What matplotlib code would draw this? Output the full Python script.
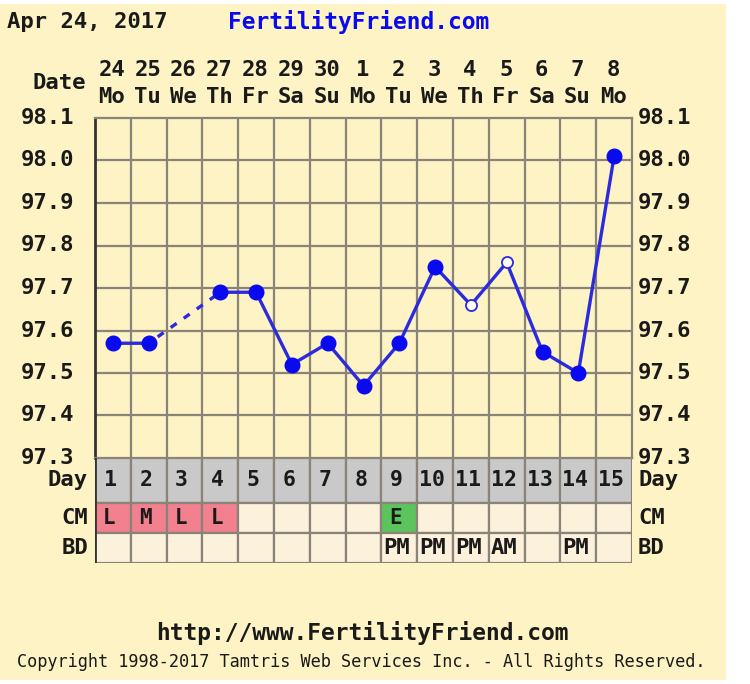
"""Fertility chart: basal body temperature, cycle days 1-15."""

import numpy as np
import matplotlib
matplotlib.use("Agg")
import matplotlib.pyplot as plt
from matplotlib.patches import Rectangle

PAGE = "#fdf3c4"
CELL = "#fcf2dc"
DAYROW = "#c9c9c9"
PINK = "#f2808e"
GREEN = "#5cc45c"
GRID = "#8a8478"
INK = "#1a1a1a"
BLUE = "#0a0aee"
LINE = "#2b2bdd"
MONO = "DejaVu Sans Mono"

# ---- data -----------------------------------------------------------------
cycle_days = list(range(1, 16))
date_nums = ["24", "25", "26", "27", "28", "29", "30", "1",
             "2", "3", "4", "5", "6", "7", "8"]
weekdays = ["Mo", "Tu", "We", "Th", "Fr", "Sa", "Su", "Mo",
            "Tu", "We", "Th", "Fr", "Sa", "Su", "Mo"]
temps = [97.57, 97.57, np.nan, 97.69, 97.69, 97.52, 97.57, 97.47,
         97.57, 97.75, 97.66, 97.76, 97.55, 97.50, 98.01]
open_marker_days = [11, 12]
cm_codes = ["L", "M", "L", "L", "", "", "", "", "E", "", "", "", "", "", ""]
bd_codes = ["", "", "", "", "", "", "", "", "PM", "PM", "PM", "AM", "", "PM", ""]
temp_ticks = [97.3, 97.4, 97.5, 97.6, 97.7, 97.8, 97.9, 98.0, 98.1]
cm_colors = {"L": PINK, "M": PINK, "E": GREEN}

W, H = 750, 684
fig = plt.figure(figsize=(W / 100, H / 100), dpi=100, facecolor="white")


def fx(px):
    return px / W


def fy(py):
    return 1 - py / H


fig.patches.append(Rectangle((0, fy(680)), fx(726), fy(4) - fy(680),
                             transform=fig.transFigure, facecolor=PAGE,
                             edgecolor="none", zorder=-10))

# ---- temperature plot -------------------------------------------------------
x0, x1, ytop, ybot = 95, 632, 118, 458
colw = (x1 - x0) / 15
ax = fig.add_axes([fx(x0), fy(ybot), fx(x1 - x0), fy(ytop) - fy(ybot)])
ax.set_facecolor(PAGE)
ax.set_xlim(0.5, 15.5)
ax.set_ylim(temp_ticks[0], temp_ticks[-1])
for d in np.arange(1.5, 15.5, 1.0):
    ax.axvline(d, color=GRID, lw=1.6, zorder=1)
for t in temp_ticks[1:-1]:
    ax.axhline(t, color=GRID, lw=1.6, zorder=1)
for side in ("top", "right", "bottom"):
    ax.spines[side].set_color(GRID)
    ax.spines[side].set_linewidth(1.6)
ax.spines["left"].set_color("#333333")
ax.spines["left"].set_linewidth(2.0)
ax.set_xticks([])
ax.set_yticks([])

days = np.array(cycle_days, dtype=float)
vals = np.array(temps, dtype=float)
ax.plot(days, vals, color=LINE, lw=2.4, zorder=3, solid_capstyle="round")

# dashed bridge across missing readings
missing = np.where(np.isnan(vals))[0]
for i in missing:
    lo, hi = i - 1, i + 1
    while hi < len(vals) and np.isnan(vals[hi]):
        hi += 1
    ax.plot([days[lo] + 0.25, days[hi] - 0.15],
            [vals[lo] + (vals[hi] - vals[lo]) * 0.125,
             vals[hi] - (vals[hi] - vals[lo]) * 0.075],
            color=LINE, lw=2.4, ls=(0, (2.2, 2.6)), zorder=3)

is_open = np.isin(days, open_marker_days)
filled = ~is_open & ~np.isnan(vals)
ax.plot(days[filled], vals[filled], "o", ms=10.5, color=BLUE, zorder=4)
ax.plot(days[is_open], vals[is_open], "o", ms=8, mfc="#fdfaf0",
        mec=LINE, mew=1.3, zorder=4)

# ---- table rows below ---------------------------------------------------------
tb = 563
tab = fig.add_axes([fx(x0), fy(tb), fx(x1 - x0), fy(ybot) - fy(tb)])
tab.set_xlim(0.5, 15.5)
tab.set_ylim(0, 105)
tab.axis("off")
rows = {"BD": (0, 30), "CM": (30, 60), "Day": (60, 105)}
cell_txt = dict(fontweight="bold", family=MONO, color=INK)
for k, d in enumerate(cycle_days):
    y0, y1 = rows["Day"]
    tab.add_patch(Rectangle((d - 0.5, y0), 1, y1 - y0, facecolor=DAYROW,
                            edgecolor=GRID, lw=1.6))
    tab.text(d - 0.08, (y0 + y1) / 2, str(d), ha="center", va="center",
             fontsize=15.5, **cell_txt)
    y0, y1 = rows["CM"]
    tab.add_patch(Rectangle((d - 0.5, y0), 1, y1 - y0,
                            facecolor=cm_colors.get(cm_codes[k], CELL),
                            edgecolor=GRID, lw=1.6))
    tab.text(d - 0.28, (y0 + y1) / 2, cm_codes[k], ha="left", va="center",
             fontsize=15, **cell_txt)
    y0, y1 = rows["BD"]
    tab.add_patch(Rectangle((d - 0.5, y0), 1, y1 - y0, facecolor=CELL,
                            edgecolor=GRID, lw=1.6))
    tab.text(d - 0.45, (y0 + y1) / 2, bd_codes[k], ha="left", va="center",
             fontsize=16, **cell_txt)
tab.plot([0.5, 0.5], [0, 105], color="#333333", lw=2.0)

# ---- labels ---------------------------------------------------------------------
big = dict(fontsize=16, fontweight="bold", family=MONO, color=INK)

fig.text(fx(7), fy(22), "Apr 24, 2017", ha="left", va="center", **big)
fig.text(fx(228), fy(22), "FertilityFriend.com", ha="left", va="center",
         fontsize=16.5, fontweight="bold", family=MONO, color=BLUE)
fig.text(fx(86), fy(83), "Date", ha="right", va="center", **big)
for k, d in enumerate(cycle_days):
    xd = fx(x0 + (d - 0.5) * colw - 1)
    fig.text(xd, fy(70), date_nums[k], ha="center", va="center", **big)
    fig.text(xd, fy(97), weekdays[k], ha="center", va="center", **big)

for t in temp_ticks:
    yy = fy(ybot - (t - temp_ticks[0]) / (temp_ticks[-1] - temp_ticks[0]) * (ybot - ytop))
    fig.text(fx(74), yy, f"{t:.1f}", ha="right", va="center", **big)
    fig.text(fx(638), yy, f"{t:.1f}", ha="left", va="center", **big)

for name, (y0, y1) in rows.items():
    yy = fy(tb - (y0 + y1) / 2)
    fig.text(fx(88), yy, name, ha="right", va="center", **big)
    fig.text(fx(638), yy, name, ha="left", va="center", **big)

fig.text(fx(362), fy(633), "http://www.FertilityFriend.com", ha="center",
         va="center", fontsize=16.5, fontweight="bold", family=MONO, color=INK)
fig.text(fx(361), fy(662),
         "Copyright 1998-2017 Tamtris Web Services Inc. - All Rights Reserved.",
         ha="center", va="center", fontsize=12.2, family=MONO, color=INK)

fig.savefig("out.png", dpi=100, facecolor="white")
